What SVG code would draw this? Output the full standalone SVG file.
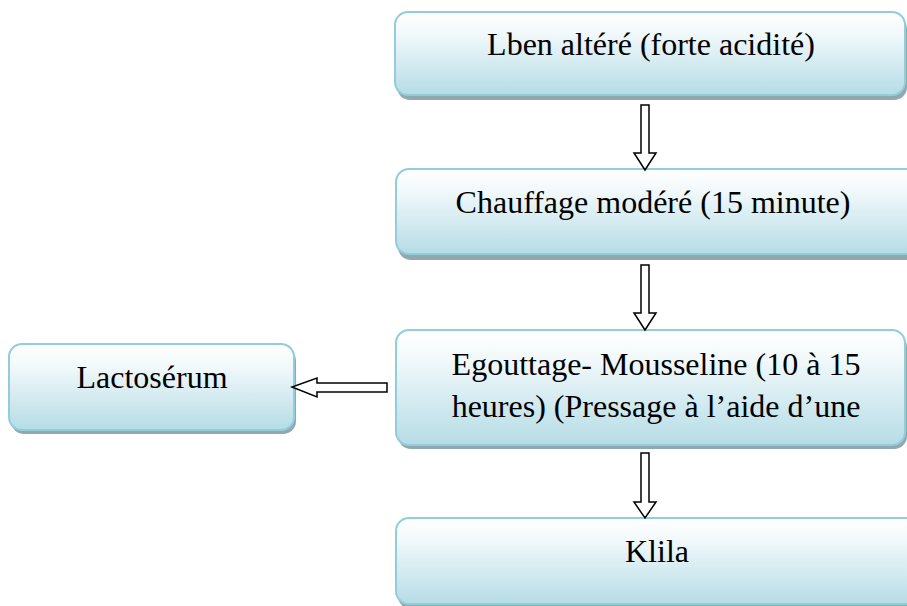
<svg xmlns="http://www.w3.org/2000/svg" width="907" height="606" viewBox="0 0 907 606">
<defs>
<linearGradient id="g" x1="0" y1="0" x2="0" y2="1">
<stop offset="0" stop-color="#ffffff"/>
<stop offset="0.25" stop-color="#f2f9fb"/>
<stop offset="1" stop-color="#b5dce6"/>
</linearGradient>
<style>
.box{fill:url(#g);stroke:#92cddb;stroke-width:2}
.sh{fill:#90a9b1}
.t{font-family:'Liberation Serif','Times New Roman',serif;font-size:32px;fill:#000;text-anchor:middle}
.arr{fill:#fff;stroke:#000;stroke-width:1.5;stroke-linejoin:miter}
</style>
</defs>
<rect width="907" height="606" fill="#fff"/>
<g id="n1">
<rect class="sh" x="397" y="16" width="510" height="84" rx="13"/>
<rect class="box" x="395" y="12" width="510" height="83" rx="13"/>
<text class="t" x="651" y="55">Lben altéré (forte acidité)</text>
</g>
<g id="n2">
<rect class="sh" x="398" y="173" width="530" height="87" rx="13"/>
<rect class="box" x="396" y="169" width="530" height="85" rx="13"/>
<text class="t" x="653" y="213">Chauffage modéré (15 minute)</text>
</g>
<g id="n3">
<rect class="sh" x="398" y="334" width="509" height="115" rx="13"/>
<rect class="box" x="396" y="330" width="509" height="115" rx="13"/>
<text class="t" x="656" y="375">Egouttage- Mousseline (10 à 15</text>
<text class="t" x="656" y="417">heures) (Pressage à l’aide d’une</text>
</g>
<g id="n4">
<rect class="sh" x="398" y="522" width="530" height="87" rx="13"/>
<rect class="box" x="396" y="518" width="530" height="86" rx="13"/>
<text class="t" x="657" y="562">Klila</text>
</g>
<g id="n5">
<rect class="sh" x="11" y="348" width="285" height="86" rx="13"/>
<rect class="box" x="9" y="344" width="285" height="86" rx="13"/>
<text class="t" x="152" y="388">Lactosérum</text>
</g>
<g id="connectors">
<path class="arr" d="M641,105 H649 V153 H656 L645,170 L634,153 H641 Z"/>
<path class="arr" d="M641,265 H649 V313 H656 L645,330 L634,313 H641 Z"/>
<path class="arr" d="M641,453 H649 V502 H656 L645,518 L634,502 H641 Z"/>
<path class="arr" d="M387,383 V392 H317 V397 L292,387 L317,378 V383 Z"/>
</g>
</svg>
